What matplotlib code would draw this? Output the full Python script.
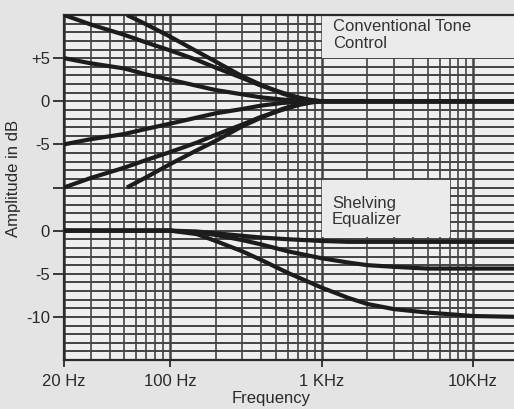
import matplotlib.pyplot as plt
from matplotlib.patches import Rectangle

plt.rcParams['font.family'] = ['Liberation Sans', 'DejaVu Sans']

# 上段: 通常のトーンコントロール (dB)
tone_freq = [20, 30, 50, 70, 100, 150, 200, 300, 400, 550, 700, 850, 1000, 20000]
tone_bass_boost = [10.0, 8.9, 7.7, 6.8, 5.9, 4.8, 3.9, 2.7, 1.8, 1.0, 0.45, 0.15, 0.0, 0.0]
tone_half_boost = [5.0, 4.4, 3.8, 3.1, 2.5, 1.8, 1.3, 0.8, 0.45, 0.2, 0.08, 0.02, 0.0, 0.0]
tone_half_cut = [-5.0, -4.4, -3.8, -3.2, -2.6, -1.9, -1.4, -0.9, -0.5, -0.2, -0.08, -0.02, 0.0, 0.0]
tone_bass_cut = [-10.0, -8.9, -7.7, -6.8, -5.9, -4.8, -3.9, -2.7, -1.8, -1.0, -0.45, -0.15, 0.0, 0.0]

steep_freq = [52, 70, 100, 150, 200, 300, 400, 550, 700, 850, 1000, 20000]
tone_steep_boost = [10.0, 8.9, 7.5, 5.8, 4.6, 2.9, 1.9, 0.9, 0.35, 0.1, 0.0, 0.0]
tone_steep_cut = [-10.0, -8.8, -7.3, -5.7, -4.6, -2.9, -1.9, -0.9, -0.35, -0.1, 0.0, 0.0]

# 下段: シェルビングイコライザ (dB)
shelf_freq = [20, 100, 150, 200, 300, 400, 600, 1000, 1500, 2000, 3000, 5000, 10000, 20000]
shelf_small = [0.0, 0.0, -0.1, -0.3, -0.6, -0.8, -1.0, -1.2, -1.3, -1.3, -1.3, -1.3, -1.3, -1.3]
shelf_mid = [0.0, 0.0, -0.2, -0.5, -1.1, -1.6, -2.4, -3.2, -3.7, -4.0, -4.2, -4.4, -4.4, -4.4]
shelf_large = [0.0, 0.0, -0.4, -1.2, -2.4, -3.4, -4.9, -6.6, -7.8, -8.5, -9.1, -9.5, -9.9, -10.0]

UPPER = 15  # 上段の0dBの位置
X_MAX = 18600

ytick_pos = [-10, -5, 0, 5, 10, 15, 20]
ytick_lbl = ['-10', '-5', '0', '', '-5', '0', '+5']
xtick_pos = [20, 100, 1000, 10000]
xtick_lbl = ['20 Hz', '100 Hz', '1 KHz', '10KHz']

bg = '#e4e4e4'
ink = '#1c1c1c'
grid_c = '#444444'

fig = plt.figure(figsize=(5.14, 4.09), dpi=100, facecolor=bg)
ax = fig.add_axes([64 / 514, 49 / 409, 1 - 64 / 514, 345 / 409])
ax.set_facecolor('#efefef')
ax.set_xscale('log')
ax.set_xlim(20, X_MAX)
ax.set_ylim(-15, 25)

# グリッド
minor_x = [m * d for d in (10, 100, 1000, 10000) for m in range(2, 10) if m * d not in xtick_pos and m * d < X_MAX]
ax.set_xticks(xtick_pos)
ax.set_xticklabels(xtick_lbl)
ax.set_xticks(minor_x, minor=True)
ax.set_yticks(ytick_pos)
ax.set_yticklabels(ytick_lbl)
ax.set_yticks([v for v in range(-15, 26) if v not in ytick_pos], minor=True)
ax.set_axisbelow(True)
ax.xaxis.grid(True, which='major', color=grid_c, lw=1.8)
ax.xaxis.grid(True, which='minor', color=grid_c, lw=1.2)
ax.yaxis.grid(True, which='both', color=grid_c, lw=1.4)
ax.tick_params(which='minor', length=0)
ax.tick_params(which='major', labelsize=12, colors='#2a2a2a', width=1.3)
ax.tick_params(axis='y', length=8, pad=2)
ax.tick_params(axis='x', length=5, pad=5)

for s in ['left', 'bottom', 'top']:
    ax.spines[s].set_color('#2a2a2a')
    ax.spines[s].set_linewidth(1.6)
ax.spines['right'].set_visible(False)

# 注記の背景
ax.add_patch(Rectangle((1000, 20), X_MAX - 1000, 5, facecolor='#ebebeb', edgecolor='none', zorder=1.5))
ax.add_patch(Rectangle((1000, -0.7), 7000 - 1000, 6.6, facecolor='#ebebeb', edgecolor='none', zorder=1.5))
ax.text(1190, 24.55, 'Conventional Tone\nControl', fontsize=12, color='#333333',
        va='top', ha='left', linespacing=1.15, zorder=4)
ax.text(1170, 4.0, 'Shelving\nEqualizer', fontsize=12, color='#333333',
        va='top', ha='left', linespacing=1.1, zorder=4)

lw = 3.0
for vals in [tone_bass_boost, tone_half_boost, tone_half_cut, tone_bass_cut]:
    ax.plot(tone_freq, [v + UPPER for v in vals], color=ink, lw=lw, solid_capstyle='butt', zorder=3)
for vals in [tone_steep_boost, tone_steep_cut]:
    ax.plot(steep_freq, [v + UPPER for v in vals], color=ink, lw=lw, solid_capstyle='butt', zorder=3)
for vals in [shelf_small, shelf_mid, shelf_large]:
    ax.plot(shelf_freq, vals, color=ink, lw=lw, solid_capstyle='butt', zorder=3)

fig.text(14 / 514, 1 - 178 / 409, 'Amplitude in dB', rotation=90, fontsize=12,
         color='#2a2a2a', ha='center', va='center')
fig.text(271 / 514, 1 - 399 / 409, 'Frequency', fontsize=12, color='#2a2a2a',
         ha='center', va='center')

fig.savefig('out.png', dpi=100, facecolor=bg)
